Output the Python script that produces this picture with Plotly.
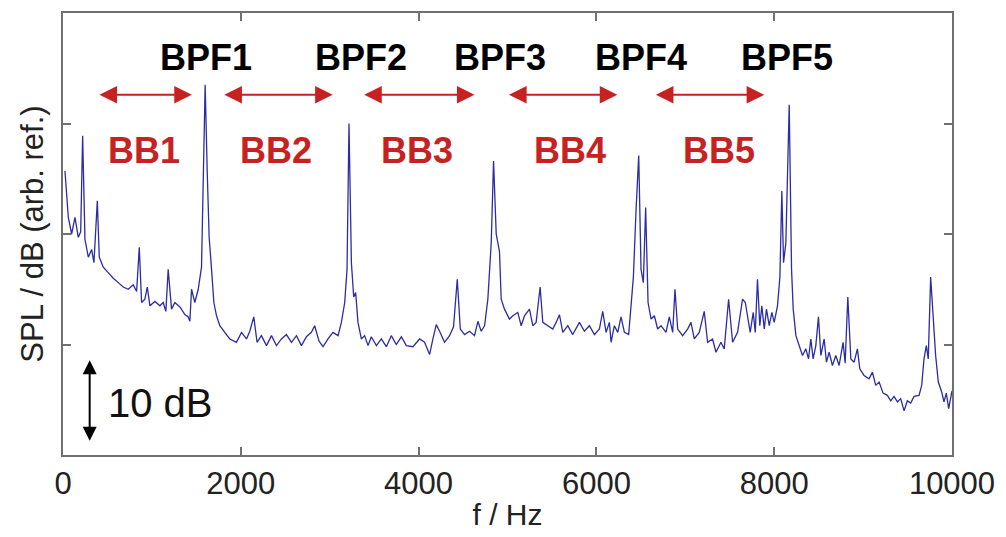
import plotly.graph_objects as go

# Spectrum: frequency (Hz) and SPL (dB, arbitrary reference)
freq_hz = [22, 42, 60, 97, 135, 172, 199, 221, 247, 285, 322, 348, 386, 408, 453, 509, 565, 622, 678, 734,
           790, 828, 858, 884, 921, 948, 978, 1034, 1090, 1127, 1157, 1183, 1221, 1258, 1315, 1371, 1408, 1427,
           1446, 1483, 1521, 1558, 1584, 1599, 1622, 1644, 1671, 1697, 1727, 1764, 1820, 1876, 1951,
           2008, 2064, 2101, 2146, 2183, 2232, 2289, 2345, 2401, 2457, 2513, 2570, 2626, 2682, 2738, 2794, 2831,
           2880, 2925, 2981, 3037, 3094, 3131, 3169, 3195, 3217, 3244, 3270, 3292, 3318, 3356, 3393, 3431, 3468,
           3525, 3581, 3637, 3693, 3749, 3806, 3862,
           3936, 4011, 4067, 4124, 4161, 4199, 4236, 4292, 4348, 4393, 4435, 4469, 4517, 4573, 4629, 4667, 4704,
           4742, 4779, 4817, 4843, 4873, 4910, 4929, 4966, 5022, 5060, 5116, 5154, 5191, 5247, 5285, 5322, 5367,
           5397, 5453, 5509, 5547, 5584, 5622, 5678, 5734,
           5809, 5865, 5921, 5978, 6034, 6071, 6109, 6146, 6165, 6202, 6240, 6277, 6315, 6363, 6390, 6416, 6446,
           6476, 6502, 6528, 6554, 6581, 6615, 6652, 6689, 6727, 6783, 6820, 6858, 6884, 6914, 6970, 7026, 7064,
           7101, 7157, 7213, 7251, 7307, 7345, 7401, 7438, 7487, 7532, 7588, 7644, 7675,
           7730, 7764, 7787, 7812, 7838, 7861, 7888, 7913, 7944, 7974, 8000, 8037, 8064, 8086, 8105, 8131, 8169,
           8195, 8214, 8244, 8281, 8318, 8356, 8386, 8412, 8438, 8468, 8498, 8525, 8562, 8588, 8618, 8655, 8693,
           8730, 8775, 8798, 8828, 8862, 8899, 8936, 8963, 9011, 9067, 9105, 9142, 9180, 9225, 9273, 9311, 9348,
           9386, 9423, 9461, 9498, 9536, 9573, 9629, 9659, 9685, 9711, 9733, 9760, 9790, 9816, 9846, 9884, 9910,
           9936, 9963, 10000]

spl_db = [25.7, 23.3, 21.5, 20.0, 21.5, 19.7, 20.2, 28.9, 19.5, 17.9, 18.6, 17.4, 23.0, 17.9, 17.0, 16.5, 16.0, 15.6,
          15.2, 15.0, 15.4, 14.8, 18.8, 13.8, 14.1, 15.2, 13.5, 13.9, 13.5, 13.8, 13.0, 16.8, 13.2, 13.8, 13.4, 12.7,
          12.5, 12.1, 15.0, 13.8, 15.0, 17.0, 28.7, 33.5, 25.7, 19.7, 16.8, 13.8, 12.6, 11.7, 11.1, 10.5, 10.2,
          11.1, 10.5, 11.2, 12.5, 10.2, 10.8, 9.9, 10.8, 9.9, 10.5, 10.9, 10.2, 10.8, 9.9, 10.7, 11.1, 11.7,
          10.3, 9.8, 10.5, 11.1, 10.8, 12.0, 13.8, 16.8, 30.0, 17.4, 14.3, 14.7, 12.0, 10.5, 10.8, 9.9, 10.7,
          9.9, 10.5, 9.8, 10.8, 10.0, 10.7, 9.9,
          9.8, 10.5, 10.2, 9.1, 10.5, 11.8, 11.2, 10.2, 10.8, 11.6, 15.9, 11.4, 10.9, 11.2, 10.8, 12.1, 11.2,
          11.7, 14.1, 19.2, 26.6, 20.0, 18.4, 14.1, 13.2, 12.3, 12.6, 12.9, 11.7, 12.6, 13.2, 11.7, 12.0, 15.2,
          12.0, 11.7, 11.4, 12.0, 12.7, 11.1, 11.7, 10.9,
          12.0, 11.2, 11.7, 10.9, 11.4, 13.0, 11.1, 12.0, 10.2, 11.7, 11.1, 12.5, 11.1, 10.9, 13.8, 16.1, 22.2,
          27.1, 16.8, 15.6, 22.4, 13.8, 12.3, 12.6, 11.4, 11.7, 11.1, 12.5, 11.1, 15.0, 11.4, 10.8, 11.4, 12.0,
          10.5, 11.1, 13.0, 10.2, 10.5, 9.3, 10.2, 9.6, 14.1, 10.2, 11.1, 14.1, 13.8,
          11.1, 12.9, 11.1, 15.9, 11.7, 13.5, 11.4, 13.2, 11.7, 12.9, 12.0, 13.5, 16.1, 23.9, 17.4, 19.2, 31.7,
          16.8, 13.2, 10.8, 9.9, 9.0, 9.6, 8.7, 10.5, 8.7, 9.9, 12.5, 9.0, 10.5, 8.4, 9.3, 8.1, 9.0,
          8.1, 10.2, 8.3, 14.3, 8.7, 8.4, 9.6, 7.8, 7.2, 6.9, 7.5, 6.3, 6.6, 5.6, 5.4, 4.9, 5.3,
          4.8, 5.1, 4.0, 4.9, 4.7, 5.3, 5.4, 6.3, 8.7, 9.9, 8.7, 16.1, 12.0, 9.0, 6.6, 5.7, 4.8,
          5.6, 4.2, 5.8]

x_ticks = [0, 2000, 4000, 6000, 8000, 10000]
y_ticks = [10, 20, 30]

bpf_labels = ["BPF1", "BPF2", "BPF3", "BPF4", "BPF5"]
bpf_label_f = [1610, 3350, 4910, 6500, 8140]

bb_labels = ["BB1", "BB2", "BB3", "BB4", "BB5"]
bb_label_f = [910, 2400, 3980, 5700, 7380]
bb_start_f = [393, 1798, 3371, 5000, 6652]
bb_end_f = [1449, 3034, 4629, 6236, 7888]

RED = "#c62222"
FONT = "Liberation Sans, Arial, sans-serif"

fig = go.Figure()
fig.add_trace(go.Scatter(x=freq_hz, y=spl_db, mode="lines",
                         line=dict(color="#2c2ca4", width=1.3), showlegend=False))

annotations = []
for lab, f in zip(bpf_labels, bpf_label_f):
    annotations.append(dict(x=f, y=36.0, xref="x", yref="y", text="<b>%s</b>" % lab,
                            showarrow=False, font=dict(family=FONT, size=36, color="#000000")))
for lab, f in zip(bb_labels, bb_label_f):
    annotations.append(dict(x=f, y=27.6, xref="x", yref="y", text="<b>%s</b>" % lab,
                            showarrow=False, font=dict(family=FONT, size=36, color=RED)))
for f0, f1 in zip(bb_start_f, bb_end_f):
    annotations.append(dict(x=f1, y=32.6, ax=f0, ay=32.6, xref="x", yref="y", axref="x", ayref="y",
                            text="", showarrow=True, arrowhead=2, arrowside="end+start",
                            arrowsize=1.6, arrowwidth=2.2, arrowcolor=RED))
# 10 dB scale bar
annotations.append(dict(x=300, y=1.3, ax=300, ay=8.7, xref="x", yref="y", axref="x", ayref="y",
                        text="", showarrow=True, arrowhead=2, arrowside="end+start",
                        arrowsize=1.4, arrowwidth=2, arrowcolor="#000000"))
annotations.append(dict(x=480, y=4.7, xref="x", yref="y", text="10 dB", xanchor="left",
                        showarrow=False, font=dict(family=FONT, size=40, color="#111111")))

fig.update_layout(
    width=1006, height=537,
    margin=dict(l=63, r=53, t=11, b=80),
    paper_bgcolor="white", plot_bgcolor="white",
    annotations=annotations,
    font=dict(family=FONT, color="#222222"),
    xaxis=dict(range=[0, 10000], tickvals=x_ticks, ticktext=[str(v) for v in x_ticks],
               ticks="inside", ticklen=8, tickcolor="#707070", tickwidth=1.5,
               showline=True, linecolor="#707070", linewidth=1.5, mirror="ticks",
               showgrid=False, zeroline=False,
               tickfont=dict(family=FONT, size=31, color="#222222"),
               title=dict(text="f / Hz", font=dict(family=FONT, size=30, color="#222222"), standoff=4)),
    yaxis=dict(range=[0, 40], tickvals=y_ticks, showticklabels=False,
               ticks="inside", ticklen=8, tickcolor="#707070", tickwidth=1.5,
               showline=True, linecolor="#707070", linewidth=1.5, mirror="ticks",
               showgrid=False, zeroline=False,
               title=dict(text="SPL / dB (arb. ref.)", font=dict(family=FONT, size=31, color="#222222"),
                          standoff=8)),
)

fig.write_html("out.html")
